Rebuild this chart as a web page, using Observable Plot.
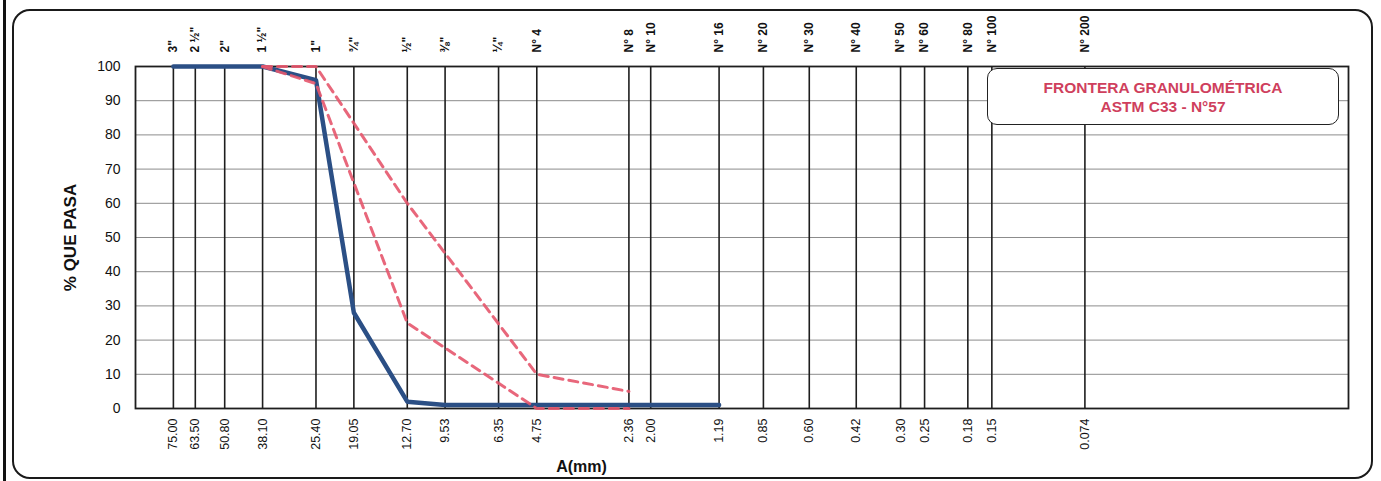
<!DOCTYPE html>
<html>
<head>
<meta charset="utf-8">
<script src="https://cdn.jsdelivr.net/npm/d3@7"></script>
<script src="https://cdn.jsdelivr.net/npm/@observablehq/plot@0.6"></script>
<style>
  html, body { margin: 0; padding: 0; background: #fff; }
  #wrap { position: relative; width: 1381px; height: 481px; overflow: hidden; background: #fff; font-family: "Liberation Sans", Arial, sans-serif; }
  #wrap svg { position: absolute; left: 0; top: 0; }
  .edge { position: absolute; left: 3px; top: 0; width: 3px; height: 481px; background: #111; }
  .outer { position: absolute; left: 12px; top: 9px; width: 1357px; height: 466px; border: 2px solid #1a1a1a; border-radius: 18px; pointer-events: none; }
  .legend { position: absolute; left: 987px; top: 68px; width: 350px; height: 55px; border: 1.5px solid #222; border-radius: 10px; background: #fff; color: #cf3f5d; font-weight: bold; font-size: 15.5px; text-align: center; line-height: 19px; box-sizing: content-box; }
  .legend div:first-child { margin-top: 9px; }
</style>
</head>
<body>
<div id="wrap"></div>
<script>
// Sieve openings (mm) and their labels
const sizes = [75, 63.5, 50.8, 38.1, 25.4, 19.05, 12.7, 9.53, 6.35, 4.75, 2.36, 2.00, 1.19, 0.85, 0.60, 0.42, 0.30, 0.25, 0.18, 0.15, 0.074];
const sizeLabels = ["75.00", "63.50", "50.80", "38.10", "25.40", "19.05", "12.70", "9.53", "6.35", "4.75", "2.36", "2.00", "1.19", "0.85", "0.60", "0.42", "0.30", "0.25", "0.18", "0.15", "0.074"];
const sieveNames = ['3"', '2 ½"', '2"', '1 ½"', '1"', '¾"', '½"', '⅜"', '¼"', "N° 4", "N° 8", "N° 10", "N° 16", "N° 20", "N° 30", "N° 40", "N° 50", "N° 60", "N° 80", "N° 100", "N° 200"];
const yTicks = [0, 10, 20, 30, 40, 50, 60, 70, 80, 90, 100];

// Sample gradation (% passing)
const sampleSizes = [75, 63.5, 50.8, 38.1, 25.4, 19.05, 12.7, 9.53, 6.35, 4.75, 2.36, 2.00, 1.19];
const samplePass = [100, 100, 100, 100, 96, 28, 2, 1, 1, 1, 1, 1, 1];

// ASTM C33 N°57 limits
const limitSizes = [38.1, 25.4, 12.7, 4.75, 2.36];
const upperPass = [100, 100, 60, 10, 5];
const lowerPass = [100, 95, 25, 0, 0];

const red = "#e5576d";
const blue = "#2b4f85";

const chart = Plot.plot({
  width: 1381,
  height: 481,
  marginLeft: 135,
  marginRight: 33,
  marginTop: 66,
  marginBottom: 73,
  style: { fontFamily: "Liberation Sans, Arial, sans-serif", background: "transparent", color: "#111" },
  x: { type: "log", domain: [100, 0.01], axis: null },
  y: { domain: [0, 100], axis: null },
  marks: [
    Plot.gridY(yTicks, { stroke: "#8c8c8c", strokeOpacity: 1, strokeWidth: 1 }),
    Plot.ruleX(sizes, { y1: 0, y2: 100, stroke: "#1e1e1e", strokeWidth: 1.6 }),
    Plot.frame({ stroke: "#1e1e1e", strokeWidth: 1.8 }),
    Plot.axisY(yTicks, { tickSize: 0, tickPadding: 15, fontSize: 14, label: null }),
    // bottom tick labels (mm)
    Plot.text(sizes, { x: d => d, y: 0, text: (d, i) => sizeLabels[i], dy: 10, rotate: -90, textAnchor: "end", lineAnchor: "middle", fontSize: 12.5, fill: "#111" }),
    // top tick labels (sieve names)
    Plot.text(sizes, { x: d => d, y: 100, text: (d, i) => sieveNames[i], dy: -14, rotate: -90, textAnchor: "start", lineAnchor: "middle", fontSize: 12, fontWeight: "bold", fill: "#111" }),
    Plot.lineY(samplePass, { x: sampleSizes, stroke: blue, strokeWidth: 4.5 }),
    Plot.lineY(lowerPass, { x: limitSizes, stroke: red, strokeWidth: 3, strokeDasharray: "9,6", strokeOpacity: 0.9 }),
    Plot.lineY(upperPass, { x: limitSizes, stroke: red, strokeWidth: 3, strokeDasharray: "9,6", strokeOpacity: 0.9 }),
    Plot.text(["% QUE PASA"], { frameAnchor: "left", dx: -65, rotate: -90, textAnchor: "middle", lineAnchor: "middle", fontWeight: "bold", fontSize: 17 }),
    Plot.text(["A(mm)"], { frameAnchor: "bottom-left", dx: 446, dy: 58, textAnchor: "middle", lineAnchor: "middle", fontWeight: "bold", fontSize: 16 })
  ]
});

const wrap = document.getElementById("wrap");
wrap.appendChild(chart);
const edge = document.createElement("div"); edge.className = "edge"; wrap.appendChild(edge);
const outer = document.createElement("div"); outer.className = "outer"; wrap.appendChild(outer);
const legend = document.createElement("div");
legend.className = "legend";
legend.innerHTML = "<div>FRONTERA GRANULOMÉTRICA</div><div>ASTM C33 - N°57</div>";
wrap.appendChild(legend);
</script>
</body>
</html>
